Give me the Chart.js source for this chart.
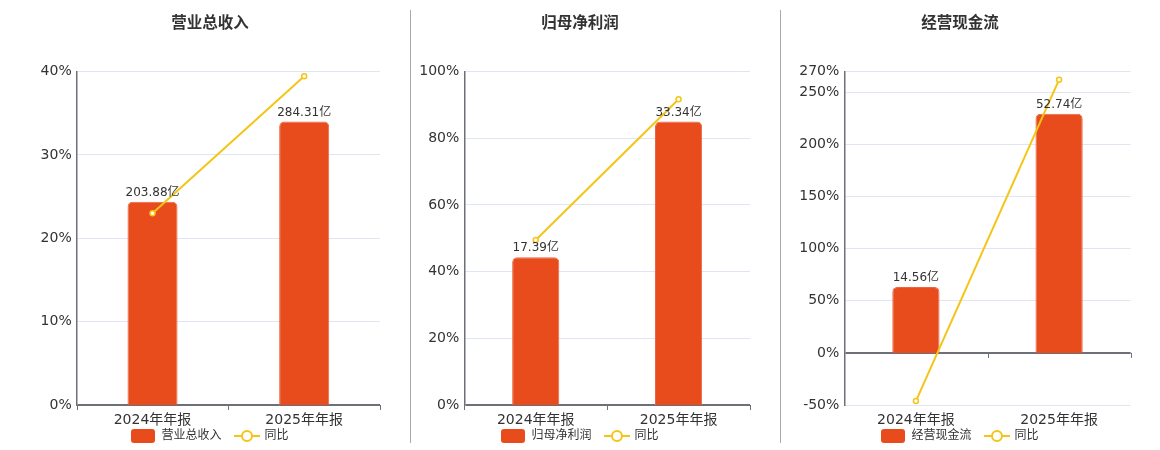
<!DOCTYPE html>
<html>
<head>
<meta charset="utf-8">
<script src="https://cdn.jsdelivr.net/npm/chart.js@4.4.1/dist/chart.umd.min.js"></script>
<style>
  html, body { margin: 0; padding: 0; background: #fff; }
  #wrap { position: relative; width: 1160px; height: 450px; overflow: hidden; }
  .panel { position: absolute; top: 0; height: 450px; }
  .sep { position: absolute; top: 10px; width: 1px; height: 433px; background: #aaa; }
</style>
</head>
<body>
<div id="wrap">
  <div class="panel" style="left:0;width:420px"><canvas id="c0"></canvas></div>
  <div class="panel" style="left:400px;width:360px"><canvas id="c1"></canvas></div>
  <div class="panel" style="left:760px;width:400px"><canvas id="c2"></canvas></div>
  <div class="sep" style="left:410px"></div>
  <div class="sep" style="left:780px"></div>
</div>
<script>
const categories = ["2024年年报", "2025年年报"];

const revenueValues = [203.88, 284.31];
const revenueYoy = [23.0, 39.45];
const revenueTicks = [0, 10, 20, 30, 40];

const profitValues = [17.39, 33.34];
const profitYoy = [49.5, 91.72];
const profitTicks = [0, 20, 40, 60, 80, 100];

const cashValues = [14.56, 52.74];
const cashYoy = [-46.2, 262.23];
const cashTicks = [-50, 0, 50, 100, 150, 200, 250, 270];

const BAR_COLOR = "#E84C1C";
const LINE_COLOR = "#F4C515";
const AXIS_COLOR = "#6E7079";
const GRID_COLOR = "#E0E6F1";
const TEXT_COLOR = "#333";
const FONT = '"DejaVu Sans", "Noto Sans CJK SC", sans-serif';

Chart.defaults.font.family = FONT;

// legend markers
function barMarker() {
  const c = document.createElement("canvas");
  c.width = 24; c.height = 14;
  const g = c.getContext("2d");
  g.fillStyle = BAR_COLOR;
  g.beginPath();
  g.roundRect(0, 0, 24, 14, 3);
  g.fill();
  return c;
}
function lineMarker() {
  const c = document.createElement("canvas");
  c.width = 26; c.height = 14;
  const g = c.getContext("2d");
  g.strokeStyle = LINE_COLOR;
  g.lineWidth = 2;
  g.beginPath();
  g.moveTo(0, 7); g.lineTo(26, 7);
  g.stroke();
  g.beginPath();
  g.arc(13, 7, 5, 0, Math.PI * 2);
  g.fillStyle = "#fff";
  g.fill();
  g.stroke();
  return c;
}
const barImg = barMarker();
const lineImg = lineMarker();

const barLabels = {
  id: "barLabels",
  afterDatasetsDraw(chart) {
    const ctx = chart.ctx;
    const ds = chart.data.datasets[0];
    const meta = chart.getDatasetMeta(0);
    ctx.save();
    ctx.font = "12px " + FONT;
    ctx.fillStyle = TEXT_COLOR;
    ctx.textAlign = "center";
    ctx.textBaseline = "alphabetic";
    meta.data.forEach((bar, i) => {
      ctx.fillText(ds.data[i].toFixed(2) + "亿", bar.x, bar.y - 6);
    });
    ctx.restore();
  }
};

// small tick marks on the zero line between categories
const axisTicks = {
  id: "axisTicks",
  beforeDatasetsDraw(chart) {
    const ctx = chart.ctx;
    const x = chart.scales.x;
    const y0 = chart.scales.y.getPixelForValue(0);
    const n = x.ticks.length;
    const step = (x.right - x.left) / n;
    ctx.save();
    ctx.strokeStyle = AXIS_COLOR;
    ctx.lineWidth = 1;
    ctx.beginPath();
    for (let i = 0; i <= n; i++) {
      const px = Math.round(x.left + i * step) + 0.5;
      ctx.moveTo(px, y0);
      ctx.lineTo(px, y0 + 5);
    }
    ctx.stroke();
    ctx.restore();
  }
};

// legend drawn under the axis labels: [box] name  [line-o-line] 同比
const bottomLegend = {
  id: "bottomLegend",
  afterDraw(chart) {
    const ctx = chart.ctx;
    const items = chart.data.datasets.map((ds, i) => ({
      img: i === 0 ? barImg : lineImg,
      text: ds.label,
      gap: i === 0 ? 6 : 5
    }));
    ctx.save();
    ctx.font = "12px " + FONT;
    let total = 0;
    items.forEach((it, i) => {
      it.tw = ctx.measureText(it.text).width;
      total += it.img.width + it.gap + it.tw + (i > 0 ? 12 : 0);
    });
    let x = chart.width / 2 - total / 2;
    const cy = 436;
    ctx.fillStyle = TEXT_COLOR;
    ctx.textBaseline = "middle";
    ctx.textAlign = "left";
    items.forEach((it, i) => {
      if (i > 0) x += 12;
      ctx.drawImage(it.img, Math.round(x), Math.round(cy - it.img.height / 2));
      x += it.img.width + it.gap;
      ctx.fillText(it.text, x, cy);
      x += it.tw;
    });
    ctx.restore();
  }
};

function makeChart(id, title, values, yoy, ticks, yWidth, rightWidth) {
  const yMin = ticks[0];
  const yMax = ticks[ticks.length - 1];
  const barMax = Math.max(...values) / 0.85;
  const barMin = barMax * yMin / yMax;

  new Chart(document.getElementById(id), {
    type: "bar",
    data: {
      labels: categories,
      datasets: [
        {
          type: "bar",
          label: title,
          data: values,
          yAxisID: "y1",
          order: 2,
          backgroundColor: BAR_COLOR,
          borderColor: "#EC6440",
          borderWidth: 1,
          borderRadius: { topLeft: 5, topRight: 5 },
          borderSkipped: "bottom",
          barPercentage: 0.33,
          categoryPercentage: 1
        },
        {
          type: "line",
          label: "同比",
          data: yoy,
          yAxisID: "y",
          order: 1,
          borderColor: LINE_COLOR,
          borderWidth: 2,
          pointRadius: 2.5,
          pointBorderWidth: 1.5,
          pointBackgroundColor: "#fff",
          pointBorderColor: LINE_COLOR,
          tension: 0
        }
      ]
    },
    options: {
      responsive: true,
      maintainAspectRatio: false,
      animation: false,
      layout: { padding: { left: 0, right: 0, top: 0, bottom: 19 } },
      plugins: {
        title: {
          display: true,
          text: title,
          color: TEXT_COLOR,
          font: { size: 15.5, weight: "bold" },
          padding: { top: 15, bottom: 38 }
        },
        legend: { display: false },
        tooltip: { enabled: false }
      },
      scales: {
        x: {
          offset: true,
          grid: { display: false, drawTicks: false },
          border: { display: false },
          ticks: { color: TEXT_COLOR, font: { size: 14 }, padding: 7 },
          afterFit: (s) => { s.height = 26; }
        },
        y: {
          position: "left",
          min: yMin,
          max: yMax,
          afterBuildTicks: (s) => { s.ticks = ticks.map((v) => ({ value: v })); },
          afterFit: (s) => { s.width = yWidth; },
          grid: {
            drawTicks: false,
            color: (c) => (c.tick && c.tick.value === 0 ? AXIS_COLOR : GRID_COLOR),
            lineWidth: (c) => (c.tick && c.tick.value === 0 ? 2 : 1)
          },
          border: { display: true, color: AXIS_COLOR, width: 1.5 },
          ticks: {
            color: TEXT_COLOR,
            font: { size: 14 },
            padding: 5,
            callback: (v) => v + "%"
          }
        },
        y1: {
          position: "right",
          min: barMin,
          max: barMax,
          grid: { display: false },
          border: { display: false },
          ticks: { display: false },
          afterFit: (s) => { s.width = rightWidth; }
        }
      }
    },
    plugins: [axisTicks, barLabels, bottomLegend]
  });
}

makeChart("c0", "营业总收入", revenueValues, revenueYoy, revenueTicks, 76.7, 40);
makeChart("c1", "归母净利润", profitValues, profitYoy, profitTicks, 64.3, 10);
makeChart("c2", "经营现金流", cashValues, cashYoy, cashTicks, 84.3, 29.3);
</script>
</body>
</html>
